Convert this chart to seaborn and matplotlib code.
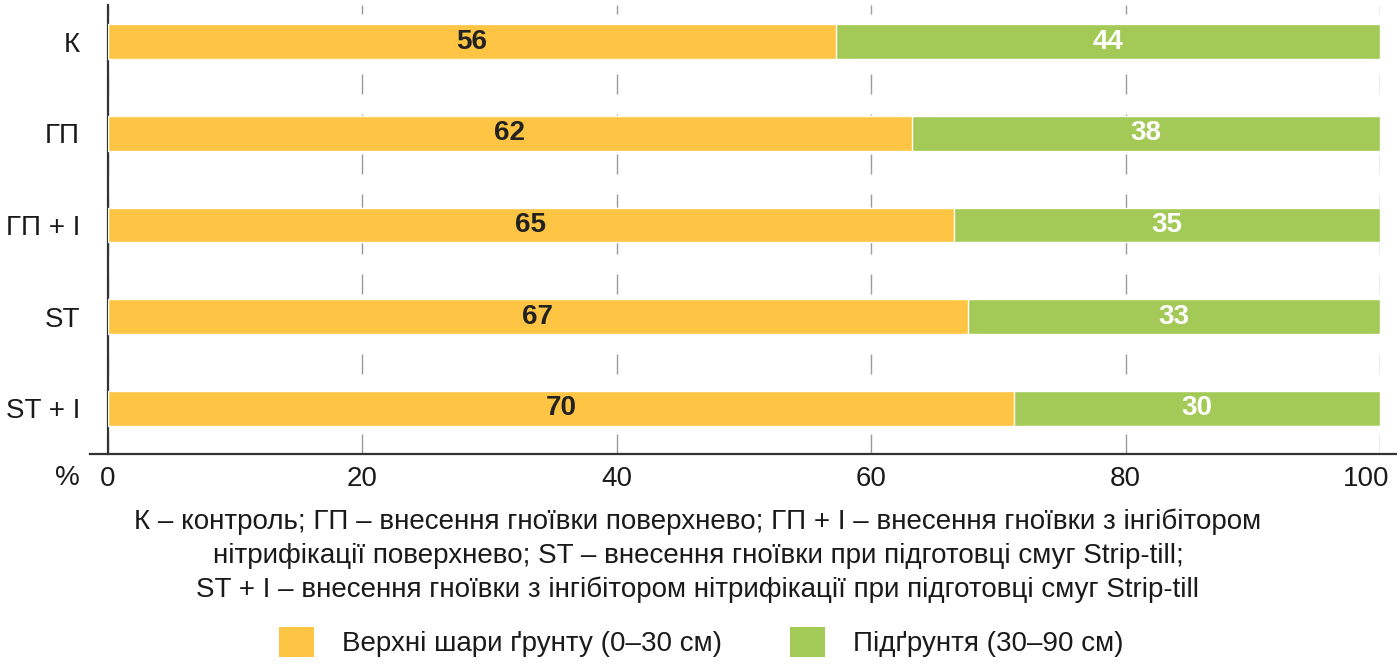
import matplotlib
matplotlib.use("Agg")
import matplotlib.pyplot as plt
from matplotlib.patches import Patch
from matplotlib.transforms import ScaledTranslation
import seaborn as sns
import pandas as pd

# ---- data ----
categories = ["К", "ГП", "ГП + І", "ST", "ST + І"]
topsoil_bar = [57.2, 63.2, 66.5, 67.6, 71.2]      # bar lengths as drawn
subsoil_bar = [42.8, 36.8, 33.5, 32.4, 28.8]
topsoil_labels = [56, 62, 65, 67, 70]               # printed values
subsoil_labels = [44, 38, 35, 33, 30]
x_ticks = [0, 20, 40, 60, 80, 100]
legend_labels = ["Верхні шари ґрунту (0–30 см)", "Підґрунтя (30–90 см)"]
caption_lines = [
    "К – контроль; ГП – внесення гноївки поверхнево; ГП + І – внесення гноївки з інгібітором",
    "нітрифікації поверхнево; ST – внесення гноївки при підготовці смуг Strip-till;",
    "ST + І – внесення гноївки з інгібітором нітрифікації при підготовці смуг Strip-till",
]

ORANGE = "#FDC543"
GREEN = "#A3C957"
TXT = "#1a1a1a"
FS = 20

sns.set_theme(style="white")
plt.rcParams["font.family"] = ["Liberation Sans", "DejaVu Sans"]

df = pd.DataFrame({
    "cat": categories,
    "top": topsoil_bar,
    "sub": subsoil_bar,
})
df["total"] = df["top"] + df["sub"]

fig = plt.figure(figsize=(13.97, 6.68), dpi=100)
ax = fig.add_axes([108 / 1397, 1 - 454 / 668, (1380 - 108) / 1397, 449 / 668])

sns.barplot(data=df, x="total", y="cat", orient="h", color=GREEN, width=0.38,
            saturation=1, ax=ax, zorder=2)
sns.barplot(data=df, x="top", y="cat", orient="h", color=ORANGE, width=0.38,
            saturation=1, ax=ax, zorder=3)

ax.set_xlim(0, 100)
ax.set_ylim(4.5, -0.4)
ax.set_xlabel("")
ax.set_ylabel("")
ax.set_xticks(x_ticks)
ax.set_xticklabels([str(t) for t in x_ticks])
ax.tick_params(axis="x", length=0, pad=9, labelsize=FS, labelcolor=TXT)
ax.tick_params(axis="y", length=0, pad=20, labelsize=FS, labelcolor=TXT)
# keep the last tick label inside the figure, as in the reference
last = ax.get_xticklabels()[-1]
last.set_transform(last.get_transform() + ScaledTranslation(-14 / 100, 0, fig.dpi_scale_trans))

ax.grid(axis="x", color="#9a9a9a", linewidth=1.0, linestyle=(0, (14.4, 14.4)), zorder=1)
ax.grid(axis="y", visible=False)
ax.set_axisbelow(True)

for s in ["top", "right"]:
    ax.spines[s].set_visible(False)
for s in ["left", "bottom"]:
    ax.spines[s].set_color("#333333")
    ax.spines[s].set_linewidth(1.6)
ax.spines["bottom"].set_bounds(-1.42, 101.3)
ax.spines["bottom"].set_clip_on(False)

# value labels
for i in range(len(categories)):
    ax.text(topsoil_bar[i] / 2, i, str(topsoil_labels[i]), ha="center", va="center",
            fontsize=FS, fontweight="bold", color="#222222", zorder=5)
    ax.text(topsoil_bar[i] + subsoil_bar[i] / 2, i, str(subsoil_labels[i]), ha="center",
            va="center", fontsize=FS, fontweight="bold", color="white", zorder=5)

# % label
fig.text(67 / 1397, 1 - 478 / 668, "%", ha="center", va="center", fontsize=FS, color=TXT)

# caption
for k, line in enumerate(caption_lines):
    fig.text(698 / 1397, 1 - (522 + 34 * k) / 668, line, ha="center", va="center",
             fontsize=FS, color=TXT)

handles = [Patch(facecolor=ORANGE, edgecolor="none"), Patch(facecolor=GREEN, edgecolor="none")]
fig.legend(handles, legend_labels, loc="center", bbox_to_anchor=(701 / 1397, 1 - 642 / 668),
           ncol=2, frameon=False, handlelength=1.26, handleheight=1.26, handletextpad=1.0,
           columnspacing=2.45, borderpad=0, borderaxespad=0,
           prop={"size": FS}, labelcolor=TXT)

fig.savefig("out.png", dpi=100, facecolor="white")
